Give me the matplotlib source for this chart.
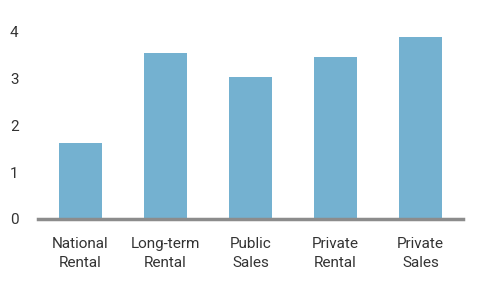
import matplotlib
matplotlib.use("Agg")
import matplotlib.pyplot as plt

categories = ["National\nRental", "Long-term\nRental", "Public\nSales", "Private\nRental", "Private\nSales"]
values = [1.62, 3.53, 3.02, 3.45, 3.89]
yticks = [0, 1, 2, 3, 4]

plt.rcParams['font.family'] = ['Roboto', 'DejaVu Sans']

fig = plt.figure(figsize=(4.85, 2.89), dpi=100)
ax = fig.add_axes([38 / 485, 70 / 289, 425 / 485, 197 / 289])

x = range(len(categories))
ax.bar(x, values, width=0.5, color="#74b1d0", zorder=2)

ax.set_xlim(-0.5, len(categories) - 0.5)
ax.set_ylim(0, 4.2)
ax.set_yticks(yticks)
ax.set_xticks(list(x))
ax.set_xticklabels(categories, fontsize=11, color="#333333", linespacing=1.45)
ax.tick_params(axis="y", labelsize=11, colors="#333333", length=0, pad=14)
ax.tick_params(axis="x", length=0, pad=13)

for s in ["top", "right", "left"]:
    ax.spines[s].set_visible(False)
ax.spines["bottom"].set_color("#8c8c8c")
ax.spines["bottom"].set_linewidth(2.5)
ax.spines["bottom"].set_zorder(3)

fig.savefig("out.png", dpi=100)
